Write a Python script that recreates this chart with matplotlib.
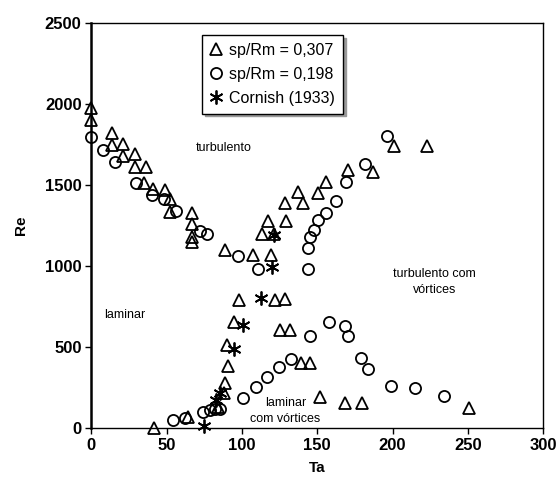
import matplotlib
matplotlib.use("Agg")
import matplotlib.pyplot as plt

plt.rcParams['font.family'] = ['Liberation Sans', 'DejaVu Sans']

# sp/Rm = 0,307 (triangles)
tri_ta = [0, 0, 14, 14, 21, 21, 29, 29, 36, 35, 41, 49, 52, 52, 67, 67, 67, 67,
          89, 107.5, 119, 113, 121, 117.5, 129, 128.5, 140.5, 137.5, 150.5, 156,
          170.5, 187, 201, 223,
          98, 122, 128.5, 95, 125, 132, 90, 91, 89, 88, 84, 64, 41.5,
          139, 145, 152, 168.5, 179.5, 251]
tri_re = [1975, 1900, 1820, 1745, 1750, 1680, 1688, 1613, 1613, 1510, 1475, 1470,
          1411, 1335, 1330, 1258, 1180, 1150,
          1100, 1065, 1065, 1200, 1200, 1280, 1280, 1390, 1387, 1457, 1453, 1521,
          1590, 1580, 1743, 1743,
          790, 792, 798, 656, 605, 605, 515, 380, 280, 214, 130, 66, 2,
          403, 403, 193, 156, 156, 121]

# sp/Rm = 0,198 (circles)
cir_ta = [0, 8, 16, 30, 40, 48, 56, 72, 77, 97.5, 111, 144, 144, 145.5, 148,
          150.5, 155.5, 162.5, 169, 181.5, 196,
          54.5, 62.5, 74, 79, 82, 85.5, 101, 109.5, 116.5, 124.5, 132.5, 145,
          158, 168.5, 170.5, 179, 183.5, 199, 215, 234]
cir_re = [1794, 1714, 1642, 1514, 1438, 1411, 1341, 1217, 1195, 1060, 983, 980,
          1109, 1181, 1220, 1284, 1325, 1403, 1521, 1630, 1802,
          49, 60, 100, 111, 115, 115, 183, 253, 317, 379, 424, 568,
          656, 630, 568, 430, 362, 261, 245, 198]

# Cornish (1933) (asterisks)
cor_ta = [75, 83, 85.5, 94.8, 100.5, 112.5, 119.7, 121.3]
cor_re = [15, 175, 214, 486, 634, 800, 996, 1191]

labels = ['sp/Rm = 0,307', 'sp/Rm = 0,198', 'Cornish (1933)']

fig = plt.figure(figsize=(5.6, 4.87), dpi=100)
ax = fig.add_axes([0.163, 0.121, 0.807, 0.832])

ax.plot(tri_ta, tri_re, linestyle='none', marker='^', markersize=8,
        markerfacecolor='none', markeredgecolor='black', markeredgewidth=1.3,
        label=labels[0], clip_on=False)
ax.plot(cir_ta, cir_re, linestyle='none', marker='o', markersize=8,
        markerfacecolor='none', markeredgecolor='black', markeredgewidth=1.3,
        label=labels[1], clip_on=False)
ax.plot(cor_ta, cor_re, linestyle='none', marker=(6, 2, 0), markersize=10,
        markerfacecolor='none', markeredgecolor='black', markeredgewidth=1.3,
        label=labels[2], clip_on=False)

ax.set_xlim(0, 300)
ax.set_ylim(0, 2500)
ax.set_xticks([0, 50, 100, 150, 200, 250, 300])
ax.set_yticks([0, 500, 1000, 1500, 2000, 2500])
ax.tick_params(direction='out', length=4, width=1, labelsize=12, pad=3)
for lab in ax.get_xticklabels() + ax.get_yticklabels():
    lab.set_fontweight('bold')
ax.spines['left'].set_linewidth(1.8)
for s in ['top', 'right', 'bottom']:
    ax.spines[s].set_linewidth(1.0)

ax.set_xlabel('Ta', fontsize=11, fontweight='bold', labelpad=6)
ax.set_ylabel('Re', fontsize=11, fontweight='bold', labelpad=12)

ax.text(88, 1728, 'turbulento', fontsize=9, ha='center', va='center')
ax.text(228, 900, 'turbulento com\nvórtices', fontsize=9, ha='center',
        va='center', linespacing=1.5)
ax.text(22, 697, 'laminar', fontsize=9, ha='center', va='center')
ax.text(129, 105, 'laminar\ncom vórtices', fontsize=9, ha='center',
        va='center', linespacing=1.5)

leg = ax.legend(loc='upper left', bbox_to_anchor=(0.245, 0.97), fontsize=11.5,
                frameon=True, fancybox=False, shadow={'color': '0.6', 'alpha': 1.0},
                handlelength=0.8, handletextpad=0.4, borderpad=0.5,
                labelspacing=0.55, borderaxespad=0)
leg.get_frame().set_edgecolor('black')
leg.get_frame().set_linewidth(1.0)

fig.savefig('out.png', dpi=100)
